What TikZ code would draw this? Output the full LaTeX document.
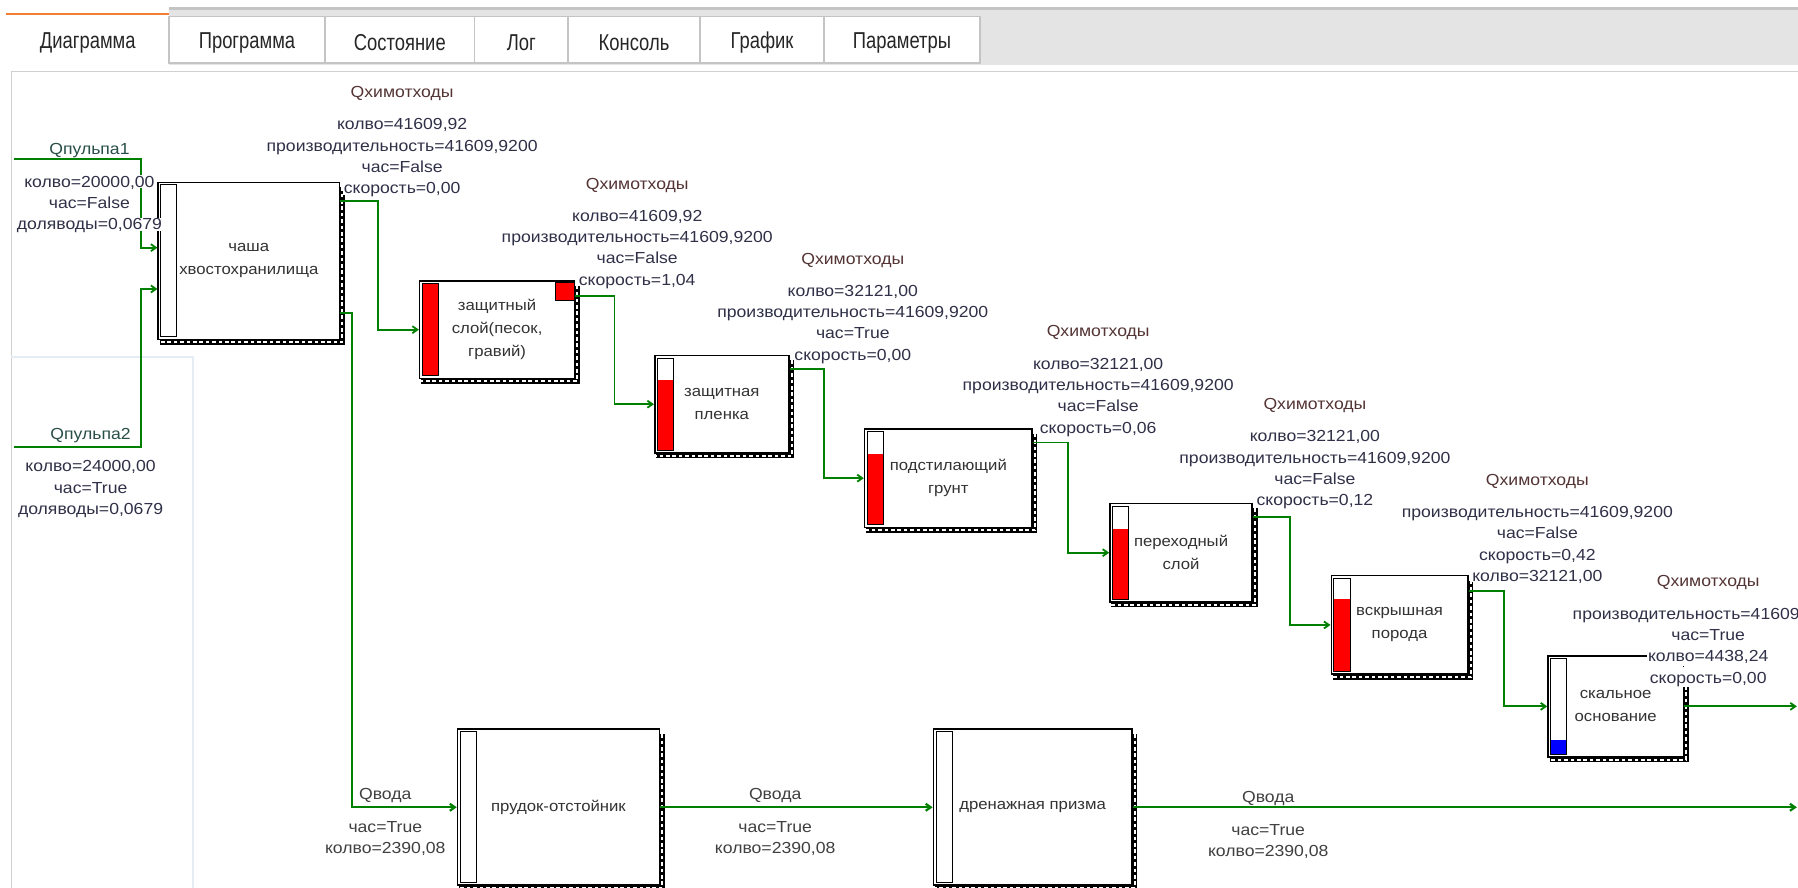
\documentclass[tikz,border=0pt]{standalone}
\usepackage{fontspec}
\setmainfont{Liberation Sans}
\newfontfamily\datafont[FakeStretch=1.1]{Liberation Sans}
\newfontfamily\tabfont[FakeStretch=0.8]{Liberation Sans}
\usetikzlibrary{calc,arrows.meta}

\definecolor{flowgreen}{RGB}{0,128,0}
\definecolor{inkval}{RGB}{48,48,72}
\definecolor{inktitle}{RGB}{84,52,52}
\definecolor{inkpulp}{RGB}{40,78,72}
\definecolor{tabline}{RGB}{196,196,196}
\definecolor{tabstrip}{RGB}{228,228,228}
\definecolor{tabmark}{RGB}{240,128,48}
\definecolor{ghost}{RGB}{230,236,243}

\begin{document}
\begin{tikzpicture}[x=0.57334pt,y=-0.57334pt,
  tank/.style 2 args={draw=black,line width=0.8pt,fill=white,inner sep=0pt,
    minimum width=#1*0.57334pt,minimum height=#2*0.57334pt,
    align=center,text=black!80,font=\datafont\fontsize{7.6}{11.5}\selectfont},
  gauge/.style={draw=black,line width=0.5pt},
  rim/.style={white,line width=0.9pt,dash pattern=on 1.8pt off 1.4pt,
    preaction={draw=black,solid,line width=2.6pt}},
  flow/.style={flowgreen,line width=0.9pt,-{Straight Barb[length=2.5pt,width=3.5pt]}},
  val/.style={fill=white,inner sep=0.4pt,text height=5.8pt,text depth=0pt,
    text=inkval,font=\datafont\fontsize{8}{9}\selectfont},
  ttl/.style={val,text=inktitle},
  tabcell/.style={draw=tabline,fill=white,line width=0.6pt},
  tabtext/.style={font=\tabfont\fontsize{11.5}{12}\selectfont,text=black!85}]
\useasboundingbox (0,0) rectangle (1568,774.4);

% tab strip
\fill[tabstrip] (147.4,7) rectangle (1568,57);
\draw[tabline,line width=1.2pt] (147.4,7.5) -- (1568,7.5);
\fill[white] (5.2,11.5) rectangle (147.4,62);
\draw[tabmark,line width=1.2pt] (5.2,12) -- (147.4,12);
\node[tabtext] (tab0) at (76.5,37.5) {Диаграмма};
\foreach \a/\b/\t [count=\i] in {147.4/283.4/Программа,283.4/414/Состояние,414/495.3/Лог,
    495.3/610.5/Консоль,610.5/718.6/График,718.6/854.6/Параметры} {
  \draw[tabcell] (\a,14.6) rectangle (\b,55);
  \node[tabtext] (tab\i) at ({(\a+\b)/2},37.5) {\t};
}
\draw[tabline!80,line width=0.6pt] (10,774.4) -- (10,62.5) -- (1568,62.5);
\draw[ghost,line width=1pt] (10,311) -- (168,311) -- (168,774.4);

% the tanks
\node[tank={158}{137}] (bowl) at (217,227.5) {чаша\\хвостохранилища};
\node[tank={135}{85}] (sandlayer) at (433.5,287.5) {защитный\\слой(песок,\\гравий)};
\node[tank={117}{85}] (film) at (629.5,352.5) {защитная\\пленка};
\node[tank={146}{86}] (subsoil) at (827,417) {подстилающий\\грунт};
\node[tank={124}{86}] (transit) at (1030,482) {переходный\\слой};
\node[tank={119}{86}] (overburden) at (1220.5,545) {вскрышная\\порода};
\node[tank={118}{88}] (bedrock) at (1409,616) {скальное\\основание};
\node[tank={176}{136}] (pond) at (487,704) {прудок-отстойник};
\node[tank={173}{136}] (drain) at (900.5,704) {дренажная призма};

% shadow rims and level gauges
\foreach \b/\s in {bowl/5,sandlayer/5,film/5,subsoil/5,transit/5,overburden/5,bedrock/27,pond/5,drain/5}
  \draw[rim] ([shift={(1.8,\s)}]\b.north east) -- ([shift={(1.8,1.8)}]\b.south east)
    -- ([shift={(2,1.8)}]\b.south west);
\foreach \b/\lvl/\c in {bowl/3/white,sandlayer/3/red,film/22/red,subsoil/23/red,
    transit/23/red,overburden/21/red,bedrock/74/blue,pond/3/white,drain/3/white} {
  \fill[white] ([shift={(3,3)}]\b.north west) rectangle ([shift={(17,-3)}]\b.south west);
  \fill[\c] ([shift={(3,\lvl)}]\b.north west) rectangle ([shift={(17,-3)}]\b.south west);
  \draw[gauge] ([shift={(3,3)}]\b.north west) rectangle ([shift={(17,-3)}]\b.south west);
}
\draw[gauge,fill=red] ([shift={(-17,2)}]sandlayer.north east) rectangle ([shift={(-1,18)}]sandlayer.north east);

% flows, free ends at the frame
\coordinate (pulp1start) at (12,139);
\coordinate (pulp2start) at (12,390);
\coordinate (rightedge) at (1567,0);
\draw[flow] (pulp1start) -| ([shift={(-14,-11.5)}]bowl.west) -- ([shift={(0,-11.5)}]bowl.west);
\draw[flow] (pulp2start) -| ([shift={(-14,24.5)}]bowl.west) -- ([shift={(0,24.5)}]bowl.west);
\draw[flow] ([shift={(0,17)}]bowl.north east) -| ([shift={(-36,0)}]sandlayer.west) -- (sandlayer.west);
\draw[flow] ([shift={(0,14)}]sandlayer.north east) -| ([shift={(-34.4,0)}]film.west) -- (film.west);
\draw[flow] ([shift={(0,12.7)}]film.north east) -| ([shift={(-34.4,0)}]subsoil.west) -- (subsoil.west);
\draw[flow] ([shift={(0,12.6)}]subsoil.north east) -| ([shift={(-36,0)}]transit.west) -- (transit.west);
\draw[flow] ([shift={(0,12.6)}]transit.north east) -| ([shift={(-35,0)}]overburden.west) -- (overburden.west);
\draw[flow] ([shift={(0,14)}]overburden.north east) -| ([shift={(-37.5,0)}]bedrock.west) -- (bedrock.west);
\draw[flow] (bedrock.east) -- (bedrock.east -| rightedge);
\draw[flow,line width=1.1pt] ([shift={(0,115)}]bowl.north east) -| ([shift={(-91,0)}]pond.west) -- (pond.west);
\draw[flow,line width=1.1pt] (pond.east) -- (drain.west);
\draw[flow,line width=1.1pt] (drain.east) -- (drain.east -| rightedge);

% pulp inputs
\node[val,text=inkpulp] (pulp1) at (78,130) {Qпульпа1};
\foreach \t [count=\i] in {{колво=20000,00},{час=False},{доляводы=0,0679}}
  \node[val] (pulp1-\i) at ($(pulp1)+(0,10+18.5*\i)$) {\t};
\node[val,text=inkpulp] (pulp2) at (79,378) {Qпульпа2};
\foreach \t [count=\i] in {{колво=24000,00},{час=True},{доляводы=0,0679}}
  \node[val] (pulp2-\i) at ($(pulp2)+(0,10+18.5*\i)$) {\t};

% waste labels, relative to the tank corners
\node[ttl] (waste1) at ($(bowl.north east)+(54,-78)$) {Qхимотходы};
\foreach \t [count=\i] in {{колво=41609,92},{производительность=41609,9200},{час=False},{скорость=0,00}}
  \node[val] (waste1-\i) at ($(waste1)+(0,9.4+18.6*\i)$) {\t};
\node[ttl] (waste2) at ($(sandlayer.north east)+(54,-84.5)$) {Qхимотходы};
\foreach \t [count=\i] in {{колво=41609,92},{производительность=41609,9200},{час=False},{скорость=1,04}}
  \node[val] (waste2-\i) at ($(waste2)+(0,9.4+18.6*\i)$) {\t};
\node[ttl] (waste3) at ($(film.north east)+(55,-84)$) {Qхимотходы};
\foreach \t [count=\i] in {{колво=32121,00},{производительность=41609,9200},{час=True},{скорость=0,00}}
  \node[val] (waste3-\i) at ($(waste3)+(0,9.4+18.6*\i)$) {\t};
\node[ttl] (waste4) at ($(subsoil.north east)+(57,-84.5)$) {Qхимотходы};
\foreach \t [count=\i] in {{колво=32121,00},{производительность=41609,9200},{час=False},{скорость=0,06}}
  \node[val] (waste4-\i) at ($(waste4)+(0,9.4+18.6*\i)$) {\t};
\node[ttl] (waste5) at ($(transit.north east)+(54,-86)$) {Qхимотходы};
\foreach \t [count=\i] in {{колво=32121,00},{производительность=41609,9200},{час=False},{скорость=0,12}}
  \node[val] (waste5-\i) at ($(waste5)+(0,9.4+18.6*\i)$) {\t};
\node[ttl] (waste6) at ($(overburden.north east)+(60,-83)$) {Qхимотходы};
\foreach \t [count=\i] in {{производительность=41609,9200},{час=False},{скорость=0,42},{колво=32121,00}}
  \node[val] (waste6-\i) at ($(waste6)+(0,9.4+18.6*\i)$) {\t};
\node[ttl] (waste7) at ($(bedrock.north east)+(21,-64.5)$) {Qхимотходы};
\foreach \t [count=\i] in {{производительность=41609,9200},{час=True},{колво=4438,24},{скорость=0,00}}
  \node[val,inner ysep=2pt] (waste7-\i) at ($(waste7)+(0,9.4+18.6*\i)$) {\t};

% water labels
\foreach \x/\y [count=\k] in {336/692,676/692,1106/694.5} {
  \node[val,text=black!75] (water\k) at (\x,\y) {Qвода};
  \foreach \t [count=\i] in {{час=True},{колво=2390,08}}
    \node[val,text=black!75] (water\k-\i) at ($(water\k)+(0,11+18*\i)$) {\t};
}
\end{tikzpicture}
\end{document}
